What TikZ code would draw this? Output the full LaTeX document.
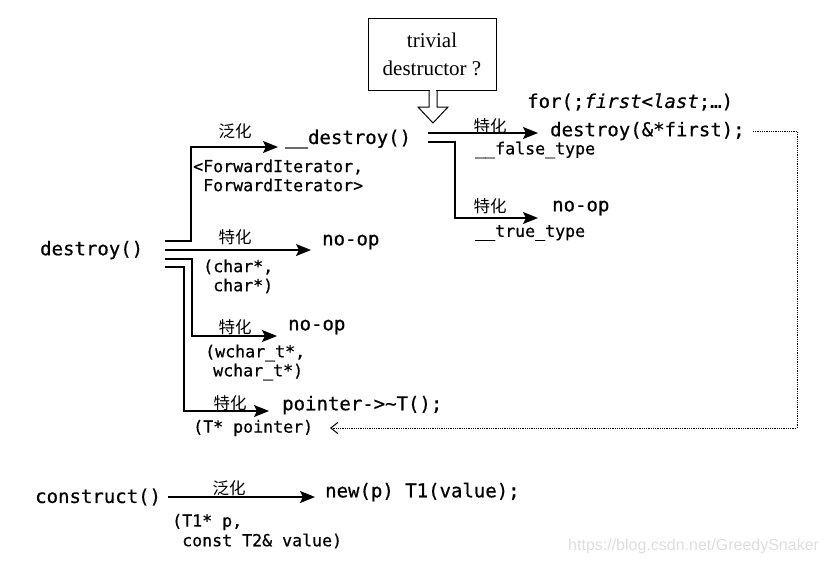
\documentclass[tikz,border=0pt]{standalone}
\usepackage{fontspec}
\setmainfont{Liberation Serif}
\newfontfamily\codefont[FakeBold=0.6]{DejaVu Sans Mono}
\newfontfamily\cjk{Noto Sans CJK SC}
\newfontfamily\wmfont{Liberation Sans}
\usetikzlibrary{arrows.meta}
\begin{document}
\begin{tikzpicture}[x=1pt,y=-1pt,
  code/.style={font=\codefont\fontsize{19}{19}\selectfont, inner sep=0pt, anchor=west},
  small/.style={font=\codefont\fontsize{16.6}{17}\selectfont, inner sep=0pt, anchor=west},
  lbl/.style={font=\cjk\fontsize{16.5}{16.5}\selectfont, inner sep=0pt},
  ln/.style={line width=1.3pt},
  arr/.style={line width=1.3pt, -{Stealth[length=15pt,width=12pt,inset=3pt]}},
  dots/.style={line width=0.8pt, densely dotted, -{Straight Barb[length=7pt,width=11pt,line width=1pt]}}
]
\useasboundingbox (0,0) rectangle (832,563);

% ---- left: destroy()
\node[code] (destroy) at (40,250) {destroy()};
\coordinate (s1) at (165,241);
\coordinate (s2) at (165,250);
\coordinate (s3) at (165,259);
\coordinate (s4) at (165,267);

\node[code] (dd) at (285,139) {\_\_destroy()};
\coordinate (t1) at (278,147);
\node[lbl] (g1) at (235,131) {泛化};
\node[small] (fi1) at (193,167) {<ForwardIterator,};
\node[small] (fi2) at (203,185) {ForwardIterator>};

\node[code] (nop1) at (322,242) {no-op};
\coordinate (t2) at (311,250);
\node[lbl] (sp1) at (235,237) {特化};
\node[small] (c1) at (203,267) {(char*,};
\node[small] (c2) at (213,286) {char*)};

\node[code] (nop2) at (288,327) {no-op};
\coordinate (t3) at (277,336);
\node[lbl] (sp2) at (235,327) {特化};
\node[small] (w1) at (205,353) {(wchar\_t*,};
\node[small] (w2) at (213,372) {wchar\_t*)};

\node[code] (ptr) at (282,405) {pointer->\textasciitilde T();};
\coordinate (t4) at (269,411);
\node[lbl] (sp3) at (230,403) {特化};
\node[small] (tp) at (193,428) {(T* pointer)};

\draw[arr] (s1) -- (191,241) |- (t1);
\draw[arr] (s2) -- (t2);
\draw[arr] (s3) -- (192,259) |- (t3);
\draw[arr] (s4) -- (184,267) |- (t4);

% ---- trivial destructor box
\node[draw, line width=1pt, minimum width=128pt, minimum height=72pt, inner sep=0pt,
      align=center, font=\fontsize{21}{28}\selectfont] (q) at (432,54) {trivial\\destructor ?};
\fill[white] (429.6,89) rectangle (436.4,91);
\draw[line width=1pt, line join=miter] (429,90) -- (429,107) -- (418,107) -- (433,123) -- (448,107) -- (437,107) -- (437,90);

% ---- right branch
\coordinate (r1) at (428,133);
\coordinate (r2) at (428,142);
\node[code] (forl) at (527,102) {for(;\itshape first<last\upshape;…)};
\node[code] (dfirst) at (550,131) {destroy(\&*first);};
\coordinate (u1) at (538,133);
\node[lbl] (sp4) at (490,126) {特化};
\node[small] (ft) at (475,150) {\_\_false\_type};

\node[code] (nop3) at (552,208) {no-op};
\coordinate (u2) at (538,218);
\node[lbl] (sp5) at (490,206) {特化};
\node[small] (tt) at (475,233) {\_\_true\_type};

\draw[arr] (r1) -- (u1);
\draw[arr] (r2) -- (455,142) |- (u2);

% ---- dotted return
\coordinate (d0) at (753,131);
\coordinate (d1) at (330,428);
\draw[dots] (d0) -- (797,131) |- (d1);

% ---- construct
\node[code] (cons) at (35,497) {construct()};
\coordinate (cs) at (168,497);
\coordinate (ct) at (315,497);
\node[lbl] (g2) at (229,488) {泛化};
\node[code] (newp) at (325,492) {new(p) T1(value);};
\node[small] (tv1) at (172,522) {(T1* p,};
\node[small] (tv2) at (182,541) {const T2\& value)};
\draw[arr] (cs) -- (ct);

% ---- watermark
\node[font=\wmfont\fontsize{16}{16}\selectfont, text=black!13, inner sep=0pt, anchor=west] (wm) at (568,546) {https://blog.csdn.net/GreedySnaker};
\end{tikzpicture}
\end{document}
